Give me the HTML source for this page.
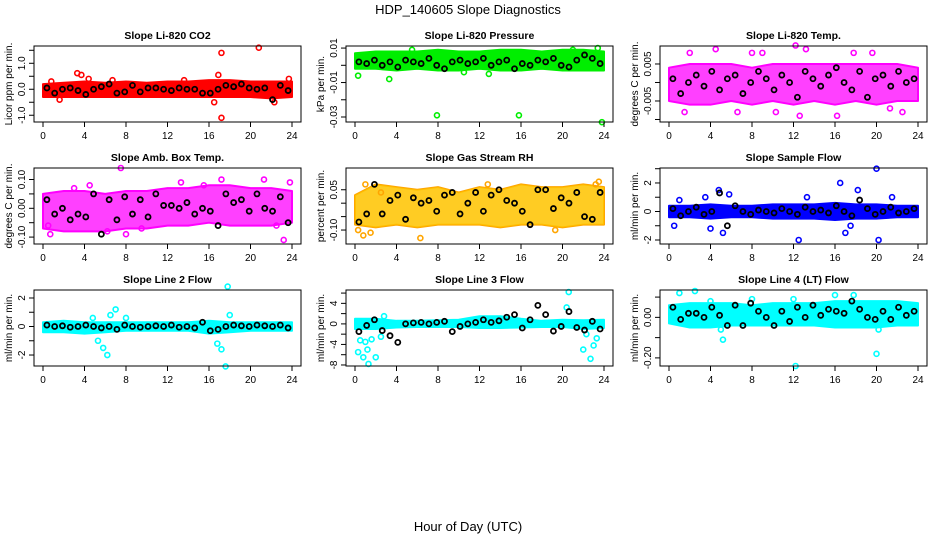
<!DOCTYPE html>
<html><head><meta charset="utf-8"><style>
body{margin:0;background:#fff;}
svg{display:block;font-family:"Liberation Sans",sans-serif;}
</style></head><body>
<svg id="chart" width="936" height="540" viewBox="0 0 936 540">
<text x="468" y="14" text-anchor="middle" font-size="13">HDP_140605  Slope Diagnostics</text>
<text x="468" y="531" text-anchor="middle" font-size="13">Hour of Day (UTC)</text>
</svg>
<script>
const xTicks=[0,4,8,12,16,20,24];
const titles=["Slope Li-820 CO2","Slope Li-820 Pressure","Slope Li-820 Temp.","Slope Amb. Box Temp.","Slope Gas Stream RH","Slope Sample Flow","Slope Line 2 Flow","Slope Line 3 Flow","Slope Line 4 (LT) Flow"];
const yTitles=["Licor ppm per min.","kPa per min.","degrees C per min.","degrees C per min.","percent per min.","ml/min per min.","ml/min per min.","ml/min per min.","ml/min per min."];
const colors=["#ff0000","#00ee00","#ff00ff","#ff00ff","#ffa500","#0000ff","#00ffff","#00ffff","#00ffff"];
const bandOpacity=[1,1,0.75,0.75,0.8,1,1,1,1];
const yDomains=[[-1.26,1.665],[-0.0329,0.0112],[-0.01068,0.00986],[-0.124,0.14],[-0.152,0.131],[-2.28,3.05],[-2.77,2.56],[-8.2,6.6],[-0.24,0.135]];
const yTicks=[[-1,-0.5,0,0.5,1,1.5],[-0.03,-0.02,-0.01,0,0.01],[-0.01,-0.005,0,0.005],[-0.1,-0.05,0,0.05,0.1],[-0.1,-0.05,0,0.05],[-2,-1,0,1,2,3],[-2,-1,0,1,2],[-8,-6,-4,-2,0,2,4,6],[-0.2,-0.1,0,0.1]];
const yLabels=[[["-1.0",-1],["0.0",0],["1.0",1]],[["-0.03",-0.03],["-0.01",-0.01],["0.01",0.01]],[["-0.005",-0.005],["0.005",0.005]],[["-0.10",-0.1],["0.00",0],["0.10",0.1]],[["-0.10",-0.1],["0.05",0.05]],[["-2",-2],["0",0],["2",2]],[["-2",-2],["0",0],["2",2]],[["-8",-8],["-4",-4],["0",0],["4",4]],[["-0.20",-0.2],["0.00",0]]];
const bandHours=[0,2,4,6,8,10,12,14,16,18,20,22,24];
const bandHi=[
[0.2,0.25,0.3,0.25,0.3,0.25,0.3,0.3,0.35,0.35,0.3,0.3,0.3],
[0.007,0.008,0.008,0.008,0.009,0.008,0.008,0.009,0.009,0.008,0.009,0.009,0.008],
[0.004,0.005,0.005,0.005,0.004,0.005,0.005,0.005,0.005,0.005,0.005,0.005,0.004],
[0.05,0.06,0.06,0.05,0.06,0.06,0.07,0.07,0.08,0.08,0.07,0.07,0.06],
[0.03,0.07,0.06,0.05,0.06,0.04,0.06,0.05,0.07,0.06,0.06,0.07,0.06],
[0.4,0.4,0.5,0.4,0.4,0.5,0.5,0.5,0.6,0.5,0.5,0.4,0.4],
[0.3,0.4,0.3,0.3,0.3,0.3,0.3,0.3,0.4,0.3,0.3,0.3,0.3],
[1.0,1.0,0.6,0.6,0.7,0.8,1.5,1.5,1.0,0.6,0.8,0.7,0.8],
[0.06,0.07,0.07,0.07,0.06,0.07,0.07,0.07,0.08,0.08,0.08,0.08,0.07]];
const bandLo=[
[-0.3,-0.3,-0.3,-0.3,-0.3,-0.3,-0.3,-0.3,-0.3,-0.3,-0.3,-0.35,-0.3],
[-0.002,-0.002,-0.003,-0.002,-0.003,-0.003,-0.002,-0.003,-0.003,-0.002,-0.003,-0.003,-0.003],
[-0.005,-0.006,-0.006,-0.005,-0.006,-0.005,-0.006,-0.005,-0.006,-0.005,-0.006,-0.005,-0.005],
[-0.07,-0.08,-0.08,-0.08,-0.07,-0.07,-0.06,-0.06,-0.05,-0.06,-0.06,-0.06,-0.05],
[-0.08,-0.09,-0.08,-0.09,-0.08,-0.08,-0.08,-0.09,-0.08,-0.08,-0.09,-0.08,-0.08],
[-0.4,-0.4,-0.5,-0.4,-0.4,-0.5,-0.5,-0.5,-0.6,-0.5,-0.5,-0.4,-0.4],
[-0.4,-0.4,-0.5,-0.4,-0.3,-0.3,-0.3,-0.3,-0.5,-0.4,-0.3,-0.3,-0.3],
[-1.0,-1.0,-0.7,-0.6,-0.6,-0.6,-0.8,-0.8,-0.7,-0.6,-0.6,-1.0,-0.8],
[-0.03,-0.05,-0.05,-0.04,-0.04,-0.04,-0.04,-0.04,-0.05,-0.05,-0.05,-0.04,-0.04]];
const outX=[
[3.3,3.7,4.4,1.6,6.7,16.5,16.9,17.2,17.2,20.8,22.3,23.7,13.6,0.8],
[0.3,3.3,7.9,15.8,23.8,23.4,21.0,12.9,5.5,10.5],
[2,4.5,6.6,9,10.3,12.2,12.6,13.2,16.2,19.6,21.3,1.5,8,17.8,22.5],
[0.5,0.7,3.0,7.5,8.0,9.5,15.5,17.2,21.3,22.5,23.2,23.8,4.5,6.2,13.3],
[0.3,0.8,1.5,6.3,2.5,23.5,23.2,19.3,1.0,12.8],
[0.5,3.5,4.0,4.8,5.2,5.8,12.5,13.3,16.5,17.0,17.5,18.2,20.0,20.2,21.5,1.0],
[5.3,5.8,6.2,6.5,7.0,16.8,17.2,17.6,17.8,18.0,4.8,8.0],
[0.3,0.5,0.8,1.0,1.3,1.6,2.0,2.5,2.8,22.0,22.3,22.7,23.0,23.3,20.4,20.6,1.2],
[1.0,2.5,5.0,5.2,12.0,12.2,16.0,17.8,20.0,20.2,4.0,8.0]];
const outY=[
[0.62,0.55,0.4,-0.4,0.35,-0.5,0.55,1.4,-1.1,1.6,-0.5,0.4,0.35,0.3],
[-0.006,-0.008,-0.029,-0.029,-0.033,0.010,0.009,-0.005,0.009,-0.004],
[0.008,0.009,-0.008,0.008,-0.008,0.010,-0.009,0.009,-0.009,0.008,-0.007,-0.008,0.008,0.008,-0.008],
[-0.06,-0.09,0.07,0.14,-0.09,-0.07,0.08,0.10,0.10,-0.06,-0.11,0.09,0.08,-0.08,0.09],
[-0.10,-0.12,-0.11,-0.13,0.04,0.08,0.07,-0.10,0.07,0.07],
[-1.0,1.0,-1.2,1.5,-1.5,1.2,-2.0,1.0,2.0,-1.5,-1.0,1.5,3.0,-2.0,1.0,0.8],
[-1.0,-1.5,-2.0,0.8,1.2,-1.2,-1.6,-2.8,2.8,0.8,0.6,0.6],
[-5.5,-3.2,-6.5,-3.5,-7.8,-3.0,-6.5,-2.5,1.5,-5.0,-2.0,-6.8,-4.2,-2.8,3.2,6.2,-5.0],
[0.12,0.13,-0.06,-0.11,0.09,-0.24,0.11,0.11,-0.18,-0.06,0.08,0.09]];
const blackY=[
[0.05,-0.15,0.0,0.05,-0.05,-0.2,0.0,0.1,0.2,-0.15,-0.1,0.15,-0.1,0.05,0.05,0.0,-0.05,0.05,0.0,0.0,-0.15,-0.15,0.0,0.15,0.1,0.2,0.05,0.0,0.05,-0.4,0.15,-0.05],
[0.002,0.001,0.003,0.000,0.002,-0.001,0.003,0.002,0.001,0.004,0.000,-0.002,0.002,0.003,0.001,0.002,0.004,0.000,0.002,0.003,-0.002,0.001,0.000,0.003,0.002,0.004,0.000,-0.001,0.003,0.006,0.004,0.001],
[0.001,-0.003,0.000,0.002,-0.001,0.003,-0.002,0.001,0.002,-0.003,0.000,0.003,0.001,-0.002,0.002,0.000,-0.004,0.003,0.001,-0.001,0.002,0.004,0.000,-0.002,0.003,-0.004,0.001,0.002,-0.001,0.003,0.000,0.001],
[0.03,-0.02,0.00,-0.04,-0.02,-0.03,0.05,-0.09,0.03,-0.04,0.04,-0.02,0.03,-0.03,0.05,0.01,0.01,0.00,0.02,-0.02,0.00,-0.01,-0.06,0.05,0.02,0.03,-0.01,0.05,0.00,-0.01,0.04,-0.05],
[-0.07,-0.04,0.07,-0.04,0.01,0.03,-0.06,0.02,0.00,0.01,-0.03,0.03,0.04,-0.04,0.00,0.04,-0.03,0.03,0.05,0.01,0.00,-0.03,-0.08,0.05,0.05,-0.02,0.02,0.00,0.04,-0.05,-0.06,0.04],
[0.2,-0.3,0.0,0.3,-0.2,0.0,1.3,-1.0,0.4,0.0,-0.2,0.1,0.0,-0.1,0.2,0.0,-0.2,0.3,0.0,0.1,-0.1,0.4,0.0,-0.3,0.8,0.2,-0.2,0.0,0.3,-0.1,0.0,0.2],
[0.1,0.0,0.05,-0.05,0.0,0.1,0.0,-0.1,0.0,-0.2,0.1,0.0,-0.05,0.0,0.05,0.0,0.1,-0.05,0.0,-0.1,0.3,-0.3,-0.2,0.0,0.1,0.05,0.0,0.1,0.05,0.0,0.1,-0.1],
[-1.5,-0.3,0.8,-1.3,-2.3,-3.6,0.0,0.2,0.3,0.0,0.3,0.5,-1.5,-0.5,0.0,0.3,0.8,0.3,0.6,1.3,1.8,-0.8,0.8,3.6,1.8,-1.4,-0.5,2.4,-0.7,-1.2,0.5,-1.0],
[0.05,-0.01,0.02,0.02,0.0,0.05,0.01,-0.04,0.06,-0.04,0.07,0.03,0.0,-0.04,0.03,-0.02,0.05,0.0,0.06,0.01,0.04,0.03,0.02,0.08,0.04,0.0,-0.01,0.03,-0.01,0.05,0.01,0.03]];

const svg=document.getElementById('chart');
const NS='http://www.w3.org/2000/svg';
function mk(tag,attrs,parent){const e=document.createElementNS(NS,tag);for(const k in attrs)e.setAttribute(k,attrs[k]);(parent||svg).appendChild(e);return e;}
const colL=[34,346,660], boxW=267, rowT=[46,168,290], boxH=76;
for(let p=0;p<9;p++){
  const L=colL[p%3], T=rowT[Math.floor(p/3)], R=L+boxW, B=T+boxH;
  const g=mk('g',{});
  
  
  const xs=h=>L+9+h*(boxW-18)/24;
  const d=yDomains[p];
  const ys=v=>B-(v-d[0])/(d[1]-d[0])*boxH;
  const t=mk('text',{x:(L+R)/2,y:T-7,'text-anchor':'middle','font-size':10.5,'font-weight':'bold'},g);
  t.textContent=titles[p];
  
  
  let pts=bandHours.map((h,i)=>xs(h)+','+ys(bandHi[p][i]));
  pts=pts.concat(bandHours.slice().reverse().map((h,i)=>xs(h)+','+ys(bandLo[p][bandHours.length-1-i])));
  const band=mk('polygon',{points:pts.join(' '),fill:colors[p],'fill-opacity':bandOpacity[p],stroke:colors[p],'stroke-width':2,'stroke-linejoin':'round'},g);
  
  
  if(p===4){const b2=mk('polygon',{points:pts.join(' '),fill:'#ffff00','fill-opacity':0.3,stroke:'none'},g);
    
    }
  outX[p].forEach((x,i)=>{const c=mk('circle',{cx:xs(x),cy:ys(outY[p][i]),r:2.5,fill:'none',stroke:colors[p],'stroke-width':1.6},g);
    
    });
  blackY[p].forEach((v,i)=>{const c=mk('circle',{cx:xs((i+0.5)*0.75),cy:ys(v),r:2.5,fill:'none',stroke:'#000','stroke-width':1.8},g);
    
    });
  const box=mk('rect',{x:L,y:T,width:boxW,height:boxH,fill:'none',stroke:'#000','stroke-width':1},g);
  
  
  xTicks.forEach(h=>{mk('line',{x1:xs(h),x2:xs(h),y1:B,y2:B+5,stroke:'#000'},g);
    const tl=mk('text',{x:xs(h),y:B+17,'text-anchor':'middle','font-size':10},g);tl.textContent=h;
    
    });
  yTicks[p].forEach(v=>{mk('line',{x1:L-5,x2:L,y1:ys(v),y2:ys(v),stroke:'#000'},g);});
  yLabels[p].forEach(([s,v])=>{const tl=mk('text',{x:0,y:0,'text-anchor':'middle','font-size':10,transform:`translate(${L-9},${ys(v)}) rotate(-90)`},g);tl.textContent=s;
    
    });
  const yt=mk('text',{x:0,y:0,'text-anchor':'middle','font-size':10,transform:`translate(${L-22},${(T+B)/2}) rotate(-90)`},g);
  yt.textContent=yTitles[p];
  
  
}
</script>
</body></html>
